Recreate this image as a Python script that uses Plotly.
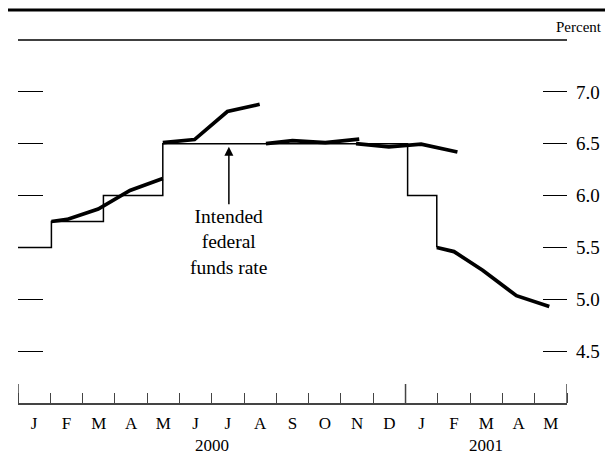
import calendar
import plotly.graph_objects as go

# ---------------- data ----------------
month_labels = ["J", "F", "M", "A", "M", "J", "J", "A", "S", "O", "N", "D",
                "J", "F", "M", "A", "M"]
year_labels = ["2000", "2001"]
year_label_pos = [6.0, 14.5]          # months since Jan 2000
year_boundaries = [0, 12, 17]

y_ticks = [4.5, 5.0, 5.5, 6.0, 6.5, 7.0]
y_tick_text = ["4.5", "5.0", "5.5", "6.0", "6.5", "7.0"]

# Intended federal funds rate (step)
target_dates = ["2000-01-01", "2000-02-02", "2000-03-21", "2000-05-16",
                "2001-01-03", "2001-01-31"]
target_rate = [5.50, 5.75, 6.00, 6.50, 6.00, 5.50]

# Expected paths (thick segments)
path1_dates = ["2000-02-02", "2000-02-16", "2000-03-16", "2000-04-15", "2000-05-16"]
path1_vals = [5.75, 5.77, 5.87, 6.05, 6.165]
path2_dates = ["2000-05-16", "2000-06-15", "2000-07-16", "2000-08-16"]
path2_vals = [6.51, 6.54, 6.81, 6.88]
path3_dates = ["2000-08-22", "2000-09-16", "2000-10-17", "2000-11-18"]
path3_vals = [6.50, 6.53, 6.51, 6.545]
path4_dates = ["2000-11-15", "2000-12-16", "2001-01-16", "2001-02-18"]
path4_vals = [6.50, 6.47, 6.495, 6.42]
path5_dates = ["2001-01-31", "2001-02-15", "2001-03-13", "2001-04-14", "2001-05-15"]
path5_vals = [5.50, 5.46, 5.28, 5.035, 4.93]

paths = [(path1_dates, path1_vals), (path2_dates, path2_vals),
         (path3_dates, path3_vals), (path4_dates, path4_vals),
         (path5_dates, path5_vals)]


def month_pos(d):
    y, m, day = map(int, d.split("-"))
    dim = calendar.monthrange(y, m)[1]
    return (y - 2000) * 12 + (m - 1) + (day - 1) / dim


FONT = "Liberation Serif"
W, H = 605, 456
ML, MR, MT, MB = 18, 38, 40, 53
PW, PH = W - ML - MR, H - MT - MB

fig = go.Figure()

fig.add_trace(go.Scatter(
    x=[month_pos(d) for d in target_dates], y=target_rate,
    mode="lines", line=dict(color="black", width=1.5, shape="hv"),
    hoverinfo="skip", showlegend=False))

for dts, vals in paths:
    fig.add_trace(go.Scatter(
        x=[month_pos(d) for d in dts], y=vals,
        mode="lines", line=dict(color="black", width=3.7),
        hoverinfo="skip", showlegend=False))

# dummy traces so the tick-only axes render
fig.add_trace(go.Scatter(x=[None], y=[None], yaxis="y2", showlegend=False))
fig.add_trace(go.Scatter(x=[None], y=[None], yaxis="y3", showlegend=False))

n_months = len(month_labels)
fig.update_layout(
    width=W, height=H,
    margin=dict(l=ML, r=MR, t=MT, b=MB, autoexpand=False),
    paper_bgcolor="white", plot_bgcolor="white",
    font=dict(family=FONT, color="black", size=17),
    xaxis=dict(
        range=[0, n_months], showgrid=False, zeroline=False,
        showline=True, linecolor="#444", linewidth=1.5, automargin=False,
        tickvals=[i + 0.5 for i in range(n_months)], ticktext=month_labels,
        ticks="", tickfont=dict(family=FONT, size=17, color="black"),
        ticklabelstandoff=4,
        minor=dict(tick0=0, dtick=1, ticks="inside", ticklen=10,
                   tickwidth=1.2, tickcolor="#444"),
    ),
    # right axis: labels only
    yaxis=dict(
        range=[4.0, 7.5], side="right", showgrid=False, zeroline=False,
        showline=False, tickvals=y_ticks, ticktext=y_tick_text,
        automargin=False, ticks="",
        tickfont=dict(family=FONT, size=19, color="black"),
        ticklabelstandoff=8,
    ),
    # left axis: inside dashes
    yaxis2=dict(
        range=[4.0, 7.5], overlaying="y", side="left", showgrid=False,
        zeroline=False, showline=False, tickvals=y_ticks, automargin=False,
        ticks="inside", ticklen=25, tickwidth=1.2, tickcolor="black",
        showticklabels=False,
    ),
    # right axis: inside dashes
    yaxis3=dict(
        range=[4.0, 7.5], overlaying="y", side="right", showgrid=False,
        zeroline=False, showline=False, tickvals=y_ticks, automargin=False,
        ticks="inside", ticklen=24, tickwidth=1.2, tickcolor="black",
        showticklabels=False,
    ),
)

shapes = []
# tall boundary ticks
for b in year_boundaries:
    shapes.append(dict(type="line", xref="x", yref="paper", x0=b, x1=b,
                       y0=0, y1=19 / PH, line=dict(color="#444", width=1.5)))
# top frame line at 7.5
shapes.append(dict(type="line", xref="paper", yref="paper", x0=0, x1=1,
                   y0=1, y1=1, line=dict(color="black", width=1.5)))
# thick top rule
shapes.append(dict(type="line", xref="paper", yref="paper",
                   x0=(8 - ML) / PW, x1=(W - ML) / PW,
                   y0=(H - MB - 10) / PH, y1=(H - MB - 10) / PH,
                   line=dict(color="black", width=3)))
fig.update_layout(shapes=shapes)

ann = []
ann.append(dict(text="Percent", xref="paper", yref="paper",
                x=(604 - ML) / PW, y=(H - MB - 27) / PH,
                xanchor="right", yanchor="middle", showarrow=False,
                font=dict(family=FONT, size=15)))
for lbl, pos in zip(year_labels, year_label_pos):
    ann.append(dict(text=lbl, xref="x", yref="paper", x=pos,
                    y=(H - MB - 445) / PH, xanchor="center", yanchor="middle",
                    showarrow=False, font=dict(family=FONT, size=17)))
ann.append(dict(text="Intended<br>federal<br>funds rate",
                xref="x", yref="y", x=6.53, y=6.47,
                axref="x", ayref="y", ax=6.53, ay=5.554,
                showarrow=True, arrowhead=2, arrowsize=1.2, arrowwidth=1.5,
                arrowcolor="black", standoff=0,
                font=dict(family=FONT, size=19.5), align="center"))
fig.update_layout(annotations=ann)

fig.write_html("out.html",
               config={"displayModeBar": False},
               post_script="document.body.style.margin='0';"
                           "document.body.style.padding='0';")
